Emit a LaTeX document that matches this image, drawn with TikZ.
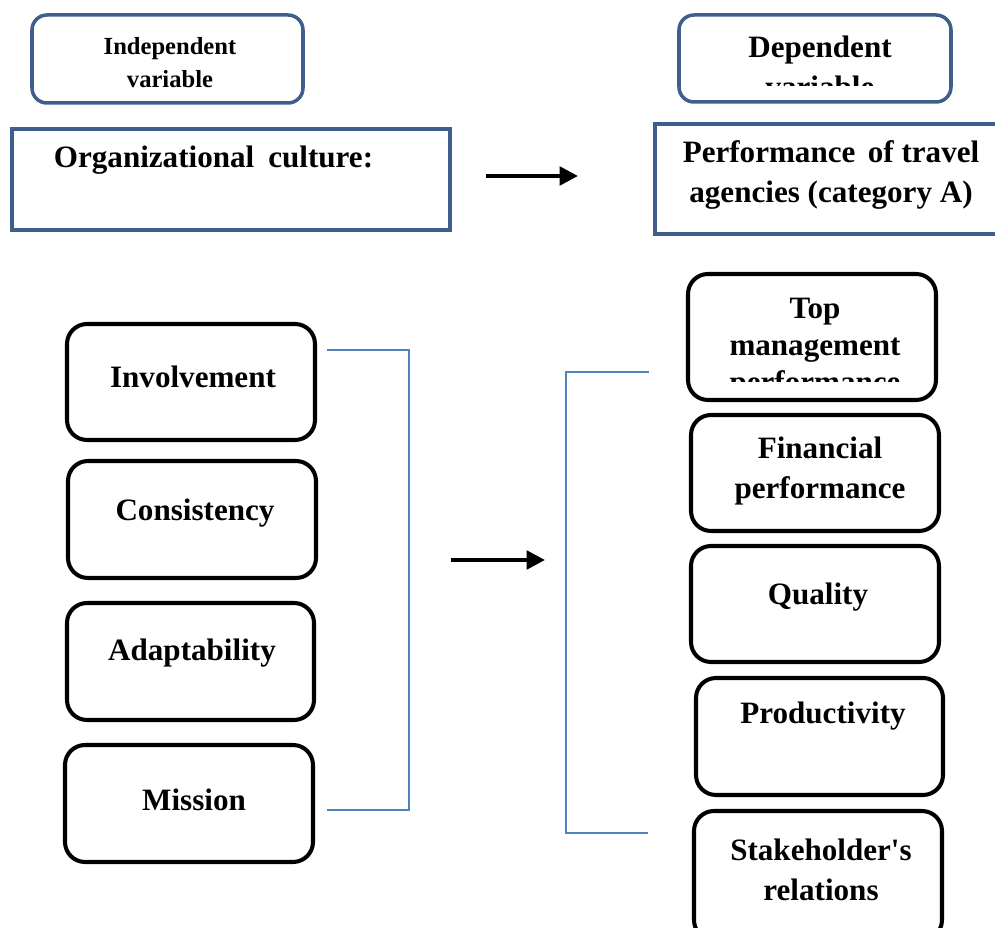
\documentclass[tikz,border=0pt]{standalone}
\usepackage{fontspec}
\setmainfont{Liberation Serif}
\usetikzlibrary{arrows.meta}

\definecolor{frameblue}{RGB}{62,95,140}
\definecolor{linkblue}{RGB}{79,129,189}

\begin{document}
\begin{tikzpicture}[x=0.02cm, y=-0.02cm, >={Triangle[length=10.5pt, width=10.5pt]},
  every node/.style={font=\fontsize{17.7}{22.5}\selectfont\bfseries, align=center},
  sz/.style 2 args={minimum width=#1*0.02cm, minimum height=#2*0.02cm, inner sep=0pt},
  varbox/.style={draw=frameblue, line width=2pt, rounded corners=0.3cm},
  mainbox/.style={draw=frameblue, line width=2.2pt},
  dimbox/.style={draw, line width=2.3pt, rounded corners=0.4cm},
  small/.style={font=\fontsize{14}{19}\selectfont\bfseries},
  brk/.style={draw=linkblue, line width=0.9pt},
  bigarrow/.style={->, line width=2.3pt}]
  \useasboundingbox (0,0) rectangle (995,928);
  \clip (0,0) rectangle (995,928);

  % variable headers
  \node[varbox, sz={271}{88}] (indep) at (167.5,59) {};
  \node[varbox, sz={272}{87}] (dep) at (815,58.5) {};
  \begin{scope}
    \clip (32,15) rectangle (303,88);
    \node[small] (indep-t) at (170,62.5) {Independent\\variable};
  \end{scope}
  \begin{scope}
    \clip (679,15) rectangle (951,86);
    \node (dep-t) at (820,67) {Dependent\\variable};
  \end{scope}

  % main concepts
  \node[mainbox, sz={438}{101}] (org) at (231,179.5) {};
  \node (org-t) at (213.5,160) {Organizational\hspace{0.45em}culture:};
  \node[mainbox, sz={355}{110}] (perf) at (832.5,179) {};
  \node (perf-t) at (831,175) {Performance\hspace{0.4em}of travel\\agencies (category A)};

  \coordinate (a1) at (486,176);
  \coordinate (a2) at (578,176);
  \draw[bigarrow] (a1) -- (a2);

  % dimensions of culture
  \node[dimbox, sz={248}{116}] (inv) at (191,382) {};
  \node (inv-t) at (193,377) {Involvement};
  \node[dimbox, sz={248}{117}] (cons) at (192,519.5) {};
  \node (cons-t) at (195,513) {Consistency};
  \node[dimbox, sz={247}{117}] (adapt) at (190.5,661.5) {};
  \node (adapt-t) at (192,653) {Adaptability};
  \node[dimbox, sz={248}{117}] (miss) at (189,803.5) {};
  \node (miss-t) at (194,800) {Mission};

  % dimensions of performance
  \node[dimbox, sz={248}{126}] (topm) at (812,337) {};
  \begin{scope}
    \clip (688,274) rectangle (936,382);
    \node[font=\fontsize{17.7}{21}\selectfont\bfseries] (topm-t) at (815,349) {Top\\management\\performance};
  \end{scope}
  \node[dimbox, sz={248}{116}] (fin) at (815,473) {};
  \node (fin-t) at (820,471) {Financial\\performance};
  \node[dimbox, sz={248}{116}] (qual) at (815,604) {};
  \node (qual-t) at (818,597) {Quality};
  \node[dimbox, sz={247}{117}] (prod) at (819.5,736.5) {};
  \node (prod-t) at (823,716) {Productivity};
  \node[dimbox, sz={248}{129}] (stake) at (818,875.5) {};
  \node (stake-t) at (821,870) {Stakeholder\textquotesingle s\\relations};

  % brackets and link
  \coordinate (lt) at (327,350);
  \coordinate (lb) at (327,810);
  \draw[brk] (lt) -- (409,350) -- (409,810) -- (lb);
  \coordinate (rt) at (649,372);
  \coordinate (rb) at (648,833);
  \draw[brk] (rt) -- (566,372) -- (566,833) -- (rb);

  \coordinate (b1) at (451,560);
  \coordinate (b2) at (545,560);
  \draw[bigarrow] (b1) -- (b2);
\end{tikzpicture}
\end{document}
